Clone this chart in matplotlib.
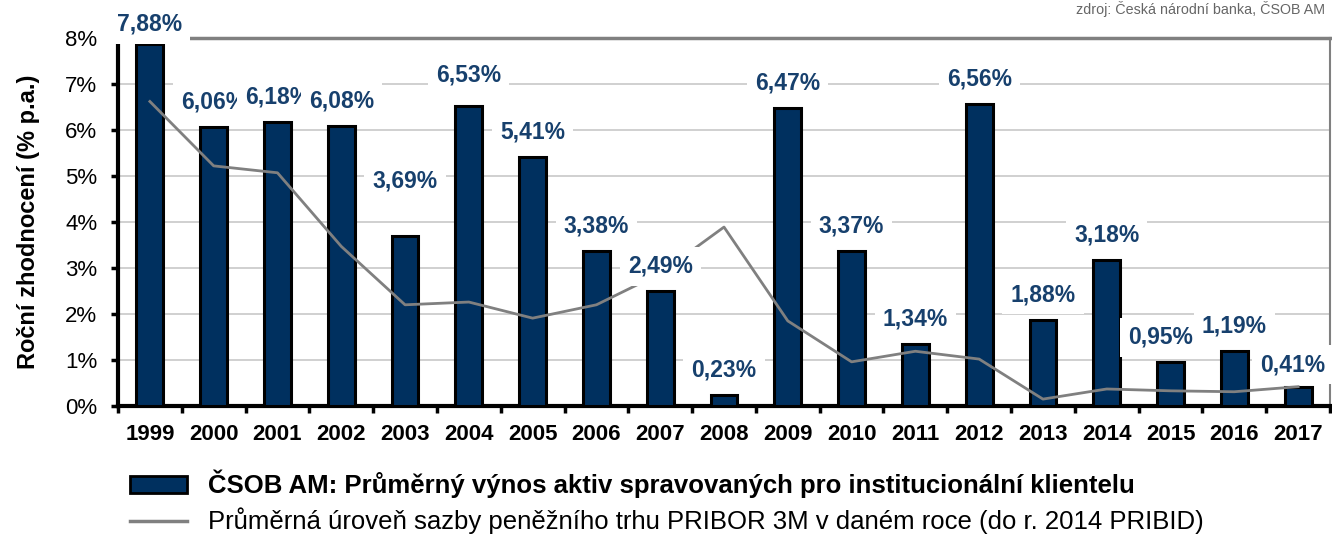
import matplotlib
matplotlib.use("Agg")
import matplotlib.pyplot as plt
from matplotlib.patches import Patch
from matplotlib.lines import Line2D
from matplotlib.ticker import FixedLocator

years = [str(y) for y in range(1999, 2018)]
returns = [7.88, 6.06, 6.18, 6.08, 3.69, 6.53, 5.41, 3.38, 2.49, 0.23,
           6.47, 3.37, 1.34, 6.56, 1.88, 3.18, 0.95, 1.19, 0.41]
pribid = [6.62, 5.22, 5.07, 3.47, 2.20, 2.26, 1.91, 2.20, 2.88, 3.89,
          1.85, 0.96, 1.19, 1.02, 0.15, 0.37, 0.33, 0.31, 0.42]

bar_label = "ČSOB AM: Průměrný výnos aktiv spravovaných pro institucionální klientelu"
line_label = "Průměrná úroveň sazby peněžního trhu PRIBOR 3M v daném roce (do r. 2014 PRIBID)"
source = "zdroj: Česká národní banka, ČSOB AM"

# label nudges in points (dx, dy above bar top)
label_offsets = {0: (0, 14), 4: (0, 40), 5: (0, 22), 16: (-7, 18), 18: (-4, 16)}

plt.rcParams["font.family"] = ["Liberation Sans", "DejaVu Sans"]

BAR = "#00305f"
TXT = "#17406d"

fig = plt.figure(figsize=(13.32, 5.37), dpi=100)
ax = fig.add_axes([118 / 1332, 1 - 406 / 537, (1330 - 118) / 1332, (406 - 38) / 537])

x = range(len(years))
ax.bar(x, returns, width=0.42, color=BAR, edgecolor="black", linewidth=2.2, zorder=3)
ax.plot(x, pribid, color="#808080", linewidth=2, zorder=4)

for i, v in enumerate(returns):
    dx, dy = label_offsets.get(i, (0, 18))
    ax.annotate(f"{v:.2f}%".replace(".", ","), (i, v), xytext=(dx, dy),
                textcoords="offset points", ha="center", va="center",
                fontsize=16.5, fontweight="bold", color=TXT, zorder=6,
                bbox=dict(boxstyle="square,pad=0.35", fc="white", ec="none"),
                annotation_clip=False)

ax.set_xlim(-0.5, len(years) - 0.5)
ax.set_ylim(0, 8)
ax.set_yticks(range(0, 9))
ax.set_yticklabels([f"{t}%" for t in range(0, 9)], fontsize=16)
ax.set_xticks(list(x))
ax.set_xticklabels(years, fontsize=16, fontweight="bold")
ax.xaxis.set_minor_locator(FixedLocator([i + 0.5 for i in range(-1, len(years))]))
ax.tick_params(axis="x", which="major", length=0, pad=13)
ax.tick_params(axis="x", which="minor", length=5, width=2.5, color="black")
ax.tick_params(axis="y", length=5, width=2.5, color="black", pad=10)

ax.grid(axis="y", color="#c8c8c8", linewidth=1.2, zorder=0)
ax.set_axisbelow(True)
ax.spines["left"].set_linewidth(3)
ax.spines["bottom"].set_linewidth(3)
ax.spines["left"].set_color("black")
ax.spines["bottom"].set_color("black")
ax.spines["top"].set_color("#808080")
ax.spines["top"].set_linewidth(2.5)
ax.spines["right"].set_color("#808080")
ax.spines["right"].set_linewidth(1.5)

ax.set_ylabel("Roční zhodnocení (% p.a.)", fontsize=17, fontweight="bold", labelpad=18)

fig.text(1325 / 1332, 1 - 9 / 537, source, ha="right", va="center", fontsize=10.3, color="#666666")

handles = [Patch(facecolor=BAR, edgecolor="black", linewidth=2),
           Line2D([0], [0], color="#808080", linewidth=2.5)]
leg = fig.legend(handles, [bar_label, line_label], loc="upper left",
                 bbox_to_anchor=(130 / 1332, 1 - 470 / 537), frameon=False,
                 fontsize=18.5, handlelength=2.2, handleheight=0.6,
                 handletextpad=0.85, labelspacing=0.35, borderpad=0,
                 borderaxespad=0)
leg.get_texts()[0].set_fontweight("bold")

fig.savefig("out.png", dpi=100)
